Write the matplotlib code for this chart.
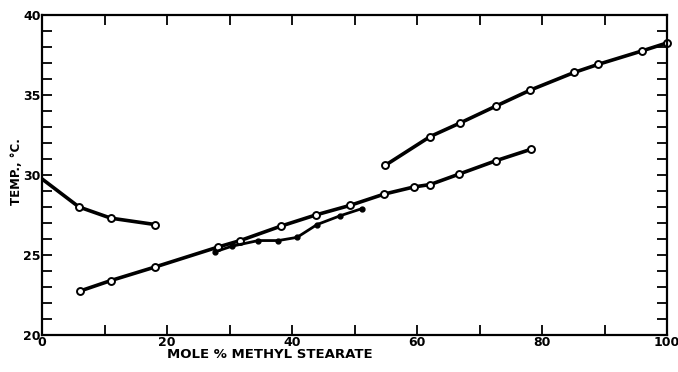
import numpy as np
import matplotlib.pyplot as plt
from matplotlib.ticker import MultipleLocator

# Curva superior esquerda (decrescente)
x_esq = [0, 5.9, 11.0, 18.1]
y_esq = [29.75, 28.0, 27.3, 26.9]

# Curva longa inferior
x_longa = [6.1, 11.0, 18.1, 28.2, 31.7, 38.2, 43.8, 49.3, 54.7, 59.5, 62.1, 66.7, 72.7, 78.2]
y_longa = [22.75, 23.4, 24.25, 25.5, 25.9, 26.8, 27.5, 28.1, 28.8, 29.25, 29.4, 30.05, 30.9, 31.6]

# Curva superior direita
x_dir = [54.9, 62.1, 66.9, 72.6, 78.1, 85.1, 88.9, 96.0, 100]
y_dir = [30.6, 32.4, 33.25, 34.3, 35.3, 36.4, 36.9, 37.75, 38.25]

# Ramo com pontos cheios
x_cheio = [27.7, 30.4, 34.6, 37.8, 40.8, 44.0, 47.7, 51.2]
y_cheio = [25.2, 25.55, 25.9, 25.9, 26.1, 26.9, 27.45, 27.9]

fig = plt.figure(figsize=(6.78, 3.72), dpi=100)
ax = fig.add_axes([0.062, 0.0995, 0.922, 0.8605])

lw = 2.6
ax.plot(x_esq, y_esq, color='black', lw=lw)
ax.plot(x_esq[1:], y_esq[1:], 'o', ms=5, mfc='white', mec='black', mew=1.4)
ax.plot(x_longa, y_longa, color='black', lw=lw, marker='o', ms=5, mfc='white', mec='black', mew=1.4)
ax.plot(x_dir, y_dir, color='black', lw=lw, marker='o', ms=5, mfc='white', mec='black', mew=1.4, clip_on=False)
ax.plot(x_cheio, y_cheio, color='black', lw=2.0, marker='o', ms=3.5, mfc='black', mec='black')

ax.set_xlim(0, 100)
ax.set_ylim(20, 40)
ax.xaxis.set_major_locator(MultipleLocator(20))
ax.xaxis.set_minor_locator(MultipleLocator(10))
ax.yaxis.set_major_locator(MultipleLocator(5))
ax.yaxis.set_minor_locator(MultipleLocator(1))
ax.tick_params(which='both', direction='in', top=True, right=True, width=1.3, length=7)
ax.tick_params(axis='x', labelsize=9, pad=1)
ax.tick_params(axis='y', labelsize=9, pad=1)
for lab in ax.get_xticklabels() + ax.get_yticklabels():
    lab.set_fontweight('bold')
for s in ax.spines.values():
    s.set_linewidth(1.6)

fig.text(270 / 678, 1 - 355 / 372, 'MOLE % METHYL STEARATE', fontsize=9.5,
         fontweight='bold', ha='center', va='center')
fig.text(17 / 678, 1 - 172 / 372, 'TEMP., °C.', fontsize=8.5, fontweight='bold',
         rotation=90, ha='center', va='center')

plt.savefig('out.png', dpi=100)
